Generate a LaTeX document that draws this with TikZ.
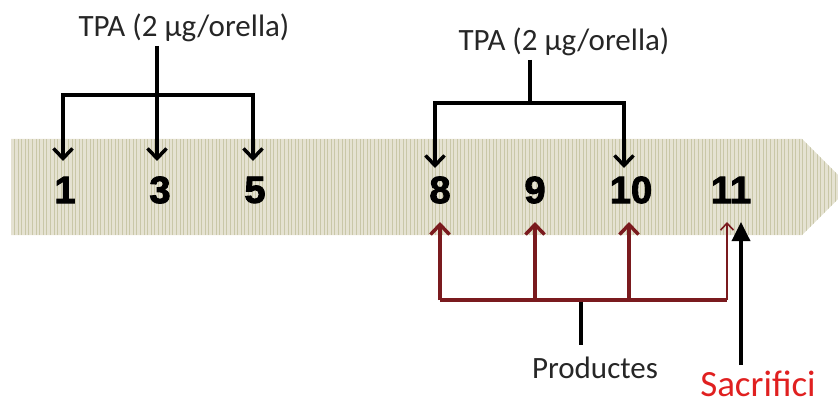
\documentclass[tikz,border=0pt]{standalone}
\usepackage{fontspec}
\setmainfont{Carlito}
\newfontfamily\numfont[BoldFeatures={FakeBold=2.5}]{Liberation Sans}
\usetikzlibrary{arrows.meta}
\definecolor{bandfill}{HTML}{E5E2D2}
\definecolor{bandgrid}{HTML}{C9C7A8}
\definecolor{prodred}{HTML}{7A1A1E}
\definecolor{sacred}{HTML}{E02020}
\tikzset{
  num/.style={font=\numfont\bfseries\fontsize{38}{38}\selectfont, text=black, inner sep=0pt},
  lbl/.style={font=\fontsize{31}{32}\selectfont, text=black!85, inner sep=0pt},
  biglbl/.style={font=\fontsize{37}{38}\selectfont, inner sep=0pt, text depth=0pt},
  blk/.style={draw=black, line width=3.5pt},
  blkarr/.style={blk, -{Straight Barb[length=10pt,width=19pt,line width=3.5pt]}},
  redl/.style={draw=prodred, line width=3.5pt},
  redarr/.style={redl, -{Straight Barb[length=10pt,width=19pt,line width=3.5pt]}},
  redthin/.style={draw=prodred, line width=1.6pt, -{Straight Barb[length=7pt,width=13pt,line width=1.6pt]}},
  sacarr/.style={blk, -{Triangle[length=19pt,width=18pt]}}
}
\begin{document}
\begin{tikzpicture}[x=1pt,y=-1pt]
\useasboundingbox (0,0) rectangle (838,401);
% band
\begin{scope}
\clip (11,139) -- (802,139) -- (850,187) -- (802,235) -- (11,235) -- cycle;
\fill[bandfill] (0,130) rectangle (850,240);
\draw[bandgrid, line width=0.9pt, step=3.6] (11,139) grid (850,235);
\end{scope}
% numbers
\node[num] (n1) at (65,190) {1};
\node[num] (n3) at (160,190) {3};
\node[num] (n5) at (255,190) {5};
\node[num] (n8) at (440,190) {8};
\node[num] (n9) at (535,190) {9};
\node[num] (n10) at (631,190) {10};
\node[num] (n11) at (731,190) {11};
% labels
\node[lbl] (tpa1) at (184,28) {TPA (2 µg/orella)};
\node[lbl] (tpa2) at (564,42) {TPA (2 µg/orella)};
\node[lbl] (prod) at (595,368) {Productes};
\node[biglbl, text=sacred, anchor=base] (sac) at (758,396) {Sacrifici};
% left TPA group
\coordinate (l0) at (157,46);
\coordinate (lj) at (157,95);
\coordinate (la) at (63,95);
\coordinate (lb) at (253,95);
\coordinate (t1) at (63,161);
\coordinate (t3) at (157,161);
\coordinate (t5) at (253,161);
\draw[blk] (l0) -- (lj);
\draw[blk, line cap=rect] (la) -- (lb);
\draw[blkarr] (la) -- (t1);
\draw[blkarr] (lj) -- (t3);
\draw[blkarr] (lb) -- (t5);
% right TPA group
\coordinate (r0) at (530,60);
\coordinate (rj) at (530,103);
\coordinate (ra) at (435,103);
\coordinate (rb) at (624,103);
\coordinate (t8) at (435,168);
\coordinate (t10) at (624,168);
\draw[blk] (r0) -- (rj);
\draw[blk, line cap=rect] (ra) -- (rb);
\draw[blkarr] (ra) -- (t8);
\draw[blkarr] (rb) -- (t10);
% products
\coordinate (pa) at (440,300);
\coordinate (pb) at (535,300);
\coordinate (pc) at (629,300);
\coordinate (pd) at (727,300);
\coordinate (ps) at (581,302);
\coordinate (pe) at (581,345);
\coordinate (u8) at (440,222);
\coordinate (u9) at (535,222);
\coordinate (u10) at (629,222);
\coordinate (u11) at (727,222);
\draw[redl] (pa) -- (pd);
\draw[redarr] (pa) -- (u8);
\draw[redarr] (pb) -- (u9);
\draw[redarr] (pc) -- (u10);
\draw[redthin] (pd) -- (u11);
\draw[blk] (ps) -- (pe);
% sacrifici
\coordinate (s0) at (741,365);
\coordinate (s1) at (741,222);
\draw[sacarr] (s0) -- (s1);
\end{tikzpicture}
\end{document}
